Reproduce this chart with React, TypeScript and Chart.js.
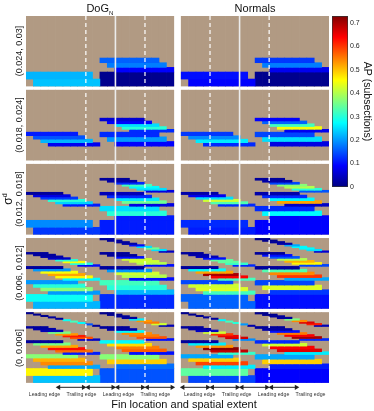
import React, { useEffect, useRef } from 'react';
import { Chart, registerables } from 'chart.js';
Chart.register(...registerables);

const N = null;
type Level = (number | null)[];
type Panel = Level[];

// σ^d bins (rows of panels, top to bottom)
const sigmaLabels = ['(0.024, 0.03]', '(0.018, 0.024]', '(0.012, 0.018]', '(0.006, 0.012]', '(0, 0.006]'];
const methodTitles = ['DoG', 'Normals'];
const edgeLabels = ['Leading edge', 'Trailing edge'];
const cbTicks = [0, 0.1, 0.2, 0.3, 0.4, 0.5, 0.6, 0.7];
const AP_MAX = 0.7285;

// AP per subsection. Each panel: 5 levels (top->bottom); within a level, one row per window position.
// "Odd" panels: windows of 1,3,5,7,9 columns; "even" panels: 2,4,6,8,10 columns (of 10). null = no data.
const dogS1Odd: Panel = [[N, N, N, N, N, N, N, N, N, N], [N, N, N, N, N, N, N, N], [N, N, N, N, N, N], [N, N, N, N], [0.22, 0.23]];
const dogS1Even: Panel = [[N, N, N, N, N, N, N, N, N], [N, N, N, N, N, N, N], [N, N, N, N, N], [0.16, 0.18, 0.09], [0.01]];
const dogS2Odd: Panel = [[N, N, N, N, N, N, N, N, N, N], [N, N, N, N, N, N, N, N], [N, N, N, N, N, N], [0.11, 0.15, 0.22, 0.08], [N, N]];
const dogS2Even: Panel = [[N, N, N, N, N, N, N, N, N], [N, N, N, N, N, N, N], [0.06, 0.09, 0.25, 0.3, 0.12], [0.12, 0.2, 0.09], [N]];
const dogS3Odd: Panel = [[N, N, N, N, N, N, N, N, N, N], [N, N, N, N, N, N, N, N], [0.02, 0.07, 0.13, 0.3, 0.24, 0.11], [N, N, N, N], [0.19, 0.13]];
const dogS3Even: Panel = [[N, N, N, N, N, N, N, N, N], [0.02, 0.03, 0.12, 0.32, 0.27, 0.25, 0.07], [0.04, 0.12, 0.26, 0.35, 0.07], [0.25, 0.3, 0.11], [0.11]];
const dogS4Odd: Panel = [[N, N, N, N, N, N, N, N, N, N], [0.02, 0.02, 0.03, 0.05, 0.3, 0.45, 0.3, 0.1], [0.02, 0.2, 0.45, 0.52, 0.46, 0.27], [0.2, 0.3, 0.37, 0.2], [0.28, 0.22]];
const dogS4Even: Panel = [[0.02, 0.02, 0.02, 0.03, 0.1, 0.25, 0.35, 0.25, 0.05], [0.02, 0.02, 0.1, 0.42, 0.42, 0.4, 0.1], [0.02, 0.2, 0.42, 0.4, 0.1], [0.32, 0.3, 0.22], [0.12]];
const dogS5Odd: Panel = [[0.01, 0.01, 0.01, 0.02, 0.02, 0.28, 0.32, 0.27, 0.15, 0.02], [0.02, 0.03, 0.04, 0.36, 0.53, 0.62, 0.58, 0.05], [0.02, 0.36, 0.52, 0.63, 0.56, 0.11], [0.37, 0.51, 0.54, 0.21], [0.46, 0.23]];
const dogS5Even: Panel = [[0.01, 0.01, 0.02, 0.02, 0.26, 0.53, 0.55, 0.42, 0.04], [0.02, 0.03, 0.27, 0.54, 0.55, 0.58, 0.1], [0.27, 0.48, 0.55, 0.57, 0.1], [0.37, 0.49, 0.17], [0.15]];

const nrmS1Odd: Panel = [[N, N, N, N, N, N, N, N, N, N], [N, N, N, N, N, N, N, N], [N, N, N, N, N, N], [N, N, N, N], [0.1, 0.09]];
const nrmS1Even: Panel = [[N, N, N, N, N, N, N, N, N], [N, N, N, N, N, N, N], [N, N, N, N, N], [0.13, 0.18, 0.08], [0.01]];
const nrmS2Odd: Panel = [[N, N, N, N, N, N, N, N, N, N], [N, N, N, N, N, N, N, N], [N, N, N, N, N, N], [0.13, 0.19, 0.26, 0.12], [N, N]];
const nrmS2Even: Panel = [[N, N, N, N, N, N, N, N, N], [N, N, N, N, N, N, N], [0.09, 0.16, 0.32, 0.45, 0.08], [0.14, 0.25, 0.07], [N]];
const nrmS3Odd: Panel = [[N, N, N, N, N, N, N, N, N, N], [N, N, N, N, N, N, N, N], [0.03, 0.08, 0.25, 0.42, 0.33, 0.12], [N, N, N, N], [0.12, 0.11]];
const nrmS3Even: Panel = [[N, N, N, N, N, N, N, N, N], [0.02, 0.03, 0.14, 0.37, 0.4, 0.3, 0.15], [0.03, 0.12, 0.27, 0.52, 0.05], [0.12, 0.27, 0.09], [0.09]];
const nrmS4Odd: Panel = [[N, N, N, N, N, N, N, N, N, N], [0.02, 0.03, 0.04, 0.1, 0.34, 0.34, 0.31, 0.12], [0.02, 0.27, 0.52, 0.7, 0.64, 0.32], [0.14, 0.42, 0.43, 0.32], [0.16, 0.16]];
const nrmS4Even: Panel = [[0.01, 0.01, 0.02, 0.03, 0.21, 0.27, 0.27, 0.25, 0.06], [0.02, 0.1, 0.15, 0.4, 0.51, 0.46, 0.14], [0.02, 0.33, 0.54, 0.6, 0.21], [0.14, 0.43, 0.13], [0.1]];
const nrmS5Odd: Panel = [[0.01, 0.01, 0.01, 0.02, 0.02, 0.27, 0.32, 0.3, 0.2, 0.03], [0.02, 0.03, 0.05, 0.42, 0.6, 0.65, 0.67, 0.19], [0.02, 0.26, 0.53, 0.72, 0.68, 0.31], [0.21, 0.49, 0.59, 0.26], [0.34, 0.14]];
const nrmS5Even: Panel = [[0.01, 0.01, 0.02, 0.02, 0.36, 0.54, 0.66, 0.62, 0.04], [0.02, 0.03, 0.1, 0.55, 0.64, 0.7, 0.12], [0.12, 0.42, 0.64, 0.66, 0.26], [0.21, 0.49, 0.11], [0.09]];

// columns: DoG odd 0-9, DoG even 10-19, gap 20, Normals odd 21-30, Normals even 31-40
const panelColumns = [
  { offset: 0, rows: [dogS1Odd, dogS2Odd, dogS3Odd, dogS4Odd, dogS5Odd] },
  { offset: 10, rows: [dogS1Even, dogS2Even, dogS3Even, dogS4Even, dogS5Even] },
  { offset: 21, rows: [nrmS1Odd, nrmS2Odd, nrmS3Odd, nrmS4Odd, nrmS5Odd] },
  { offset: 31, rows: [nrmS1Even, nrmS2Even, nrmS3Even, nrmS4Even, nrmS5Even] },
];

const NCOL = 41;
const GAP_COL = 20;
const PITCH = 5.29;
const PANEL_H = 5;
const Y_MAX = 27.62;
const ARROW_Y = 26.5;
const TAN = 'rgb(177,154,131)';
const FONT = "'Liberation Sans', Arial, sans-serif";

const W = 374, H = 411;
const AREA_L = 26, AREA_R = 329, AREA_T = 16, AREA_B = 403;
const CW = (AREA_R - AREA_L) / NCOL;
const PXU = (AREA_B - AREA_T) / Y_MAX;

function jet(v: number): string {
  const t = Math.max(0, Math.min(1, v / AP_MAX));
  const c = (k: number) => Math.round(255 * Math.max(0, Math.min(1, 1.5 - Math.abs(4 * t - k))));
  return `rgb(${c(3)},${c(2)},${c(1)})`;
}

function buildDatasets() {
  const colLabels = Array.from({ length: NCOL }, (_, i) => String(i));
  const ds: any[] = [];
  sigmaLabels.forEach((_, r) => {
    const top0 = r * PITCH;
    ds.push({
      type: 'bar',
      data: colLabels.map((__, c) => (c === GAP_COL ? null : [top0, top0 + PANEL_H])),
      backgroundColor: TAN,
      order: 10,
    });
    panelColumns.forEach(({ offset, rows }) => {
      rows[r].forEach((vals, L) => {
        const n = vals.length;
        const w = 11 - n;
        vals.forEach((v, p) => {
          if (v == null) return;
          const y0 = top0 + L + p / n;
          const y1 = top0 + L + (p + 1) / n;
          ds.push({
            type: 'bar',
            data: colLabels.map((__, c) => (c >= offset + p && c < offset + p + w ? [y0, y1] : null)),
            backgroundColor: jet(v),
            order: 0,
          });
        });
      });
    });
  });
  const lastY = (sigmaLabels.length - 1) * PITCH + PANEL_H;
  panelColumns.forEach(({ offset }) => {
    // dashed centre line (leading / trailing edge split)
    ds.push({
      type: 'line', xAxisID: 'xl', order: -1,
      data: [{ x: offset + 4.5, y: 0 }, { x: offset + 4.5, y: lastY }],
      borderColor: '#ffffff', borderWidth: 1.2, borderDash: [4, 3], pointRadius: 0,
    });
    // arrows
    const r = 3 / CW;
    [[offset - 0.5, offset + 4.5], [offset + 4.5, offset + 9.5]].forEach(([a, b]) => {
      ds.push({
        type: 'line', xAxisID: 'xl', order: -1, clip: false,
        data: [{ x: a + r, y: ARROW_Y }, { x: b - r, y: ARROW_Y }],
        borderColor: '#222', borderWidth: 1,
        pointStyle: 'triangle', pointRadius: 3, pointRotation: [-90, 90],
        pointBackgroundColor: '#222', pointBorderColor: '#222', pointBorderWidth: 0,
      });
    });
  });
  [9.5, 30.5].forEach((x) => {
    ds.push({
      type: 'line', xAxisID: 'xl', order: -2,
      data: [{ x, y: 0 }, { x, y: lastY }],
      borderColor: 'rgb(236,236,236)', borderWidth: 1.6, pointRadius: 0,
    });
  });
  return { colLabels, ds };
}

export default function App() {
  const mainRef = useRef<HTMLCanvasElement>(null);
  const cbRef = useRef<HTMLCanvasElement>(null);

  useEffect(() => {
    const { colLabels, ds } = buildDatasets();
    const main = new Chart(mainRef.current!, {
      type: 'bar',
      data: { labels: colLabels, datasets: ds },
      options: {
        responsive: false,
        animation: false,
        events: [],
        layout: { padding: { left: AREA_L, right: W - AREA_R, top: AREA_T, bottom: H - AREA_B } },
        datasets: {
          bar: { grouped: false, barPercentage: 1, categoryPercentage: 1, borderWidth: 0 },
        } as any,
        plugins: { legend: { display: false }, tooltip: { enabled: false } },
        scales: {
          x: { type: 'category', display: false, offset: true },
          xl: { type: 'linear', display: false, min: -0.5, max: NCOL - 0.5 },
          y: { type: 'linear', display: false, min: 0, max: Y_MAX, reverse: true },
        },
      } as any,
    });

    const cb = new Chart(cbRef.current!, {
      type: 'bar',
      data: {
        labels: ['AP'],
        datasets: [{
          data: [[0, AP_MAX]] as any,
          backgroundColor: (ctx: any) => {
            const area = ctx.chart.chartArea;
            if (!area) return 'blue';
            const g = ctx.chart.ctx.createLinearGradient(0, area.bottom, 0, area.top);
            [0, 0.125, 0.375, 0.625, 0.875, 1].forEach((s) => g.addColorStop(s, jet(s * AP_MAX)));
            return g;
          },
          borderColor: '#333', borderWidth: 1, borderSkipped: false,
          barPercentage: 1, categoryPercentage: 1,
        }],
      },
      options: {
        responsive: false,
        animation: false,
        events: [],
        layout: { padding: { left: 4, right: 0, top: 16, bottom: 13 } },
        plugins: { legend: { display: false }, tooltip: { enabled: false } },
        scales: {
          x: { display: false },
          y: {
            position: 'right', min: 0, max: AP_MAX,
            afterBuildTicks: (s: any) => { s.ticks = cbTicks.map((v) => ({ value: v })); },
            afterFit: (s: any) => { s.width = 26; },
            grid: { display: false, drawTicks: false },
            border: { display: false },
            ticks: {
              padding: 2, color: '#222', font: { size: 7, family: FONT },
              callback: (v: any) => (Number(v) === 0 ? '0' : Number(v).toFixed(1)),
            },
            title: {
              display: true, text: 'AP (subsections)', color: '#111',
              font: { size: 10.5, family: FONT }, padding: { top: 1, bottom: 0 },
            },
          },
        },
      } as any,
    });
    return () => { main.destroy(); cb.destroy(); };
  }, []);

  const abs = (style: React.CSSProperties): React.CSSProperties => ({
    position: 'absolute', whiteSpace: 'nowrap', lineHeight: 1, fontFamily: FONT, color: '#111', ...style,
  });
  const colX = (c: number) => AREA_L + (c + 0.5) * CW;

  return (
    <div style={{ position: 'absolute', left: 0, top: 0, width: W, height: H, background: '#fff', overflow: 'hidden' }}>
      <canvas ref={mainRef} width={W} height={H} style={{ position: 'absolute', left: 0, top: 0, width: W, height: H }} />
      <canvas ref={cbRef} width={46} height={200} style={{ position: 'absolute', left: 328, top: 0, width: 46, height: 200 }} />
      {/* method titles */}
      <div style={abs({ left: (colX(0) + colX(19)) / 2, top: 8, transform: 'translate(-50%,-50%)', fontSize: 11 })}>
        {methodTitles[0]}<span style={{ fontSize: 6, position: 'relative', top: 3 }}>N</span>
      </div>
      <div style={abs({ left: (colX(21) + colX(40)) / 2, top: 8, transform: 'translate(-50%,-50%)', fontSize: 11 })}>
        {methodTitles[1]}
      </div>
      {/* sigma row labels */}
      {sigmaLabels.map((s, r) => (
        <div key={s} style={abs({ left: 18.5, top: AREA_T + (r * PITCH + PANEL_H / 2) * PXU, transform: 'translate(-50%,-50%) rotate(-90deg)', fontSize: 9, color: '#222' })}>
          {s}
        </div>
      ))}
      <div style={abs({ left: 7, top: AREA_T + ((sigmaLabels.length - 1) * PITCH + PANEL_H) / 2 * PXU, transform: 'translate(-50%,-50%) rotate(-90deg)', fontSize: 12 })}>
        σ<sup style={{ fontSize: 7 }}>d</sup>
      </div>
      {/* edge labels */}
      {panelColumns.map(({ offset }) =>
        edgeLabels.map((t, k) => (
          <div key={offset + '-' + k} style={abs({ left: AREA_L + (offset + 2.5 + 5 * k) * CW, top: 395, transform: 'translate(-50%,-50%)', fontSize: 5.2, color: '#333' })}>
            {t}
          </div>
        ))
      )}
      <div style={abs({ left: 184, top: 404, transform: 'translate(-50%,-50%)', fontSize: 11 })}>
        Fin location and spatial extent
      </div>
    </div>
  );
}
